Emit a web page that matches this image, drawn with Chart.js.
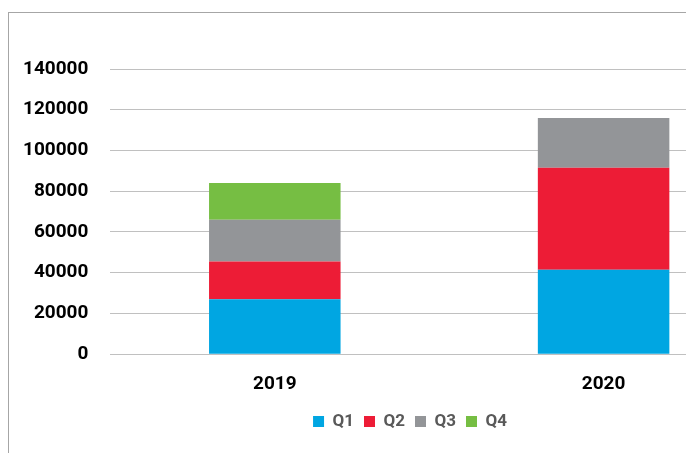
<!DOCTYPE html>
<html>
<head>
<meta charset="utf-8">
<script src="https://cdn.jsdelivr.net/npm/chart.js@4"></script>
<style>
  html, body { margin: 0; padding: 0; background: #fff; overflow: hidden; width: 686px; height: 453px; }
  #frame {
    position: absolute; left: 8px; top: 12px;
    width: 810px; height: 441px;
    border-left: 1px solid #a6a6a6; border-top: 1px solid #a6a6a6;
  }
  #box { position: absolute; left: 0; top: 0; width: 802px; height: 440px; }
</style>
</head>
<body>
<div id="frame"><div id="box"><canvas id="chart"></canvas></div></div>
<script>
// Categories and series
const years = ['2019', '2020'];
const q1 = [27000, 41500];
const q2 = [18500, 50000];
const q3 = [20500, 24500];
const q4 = [18000, null];
const yTicks = [0, 20000, 40000, 60000, 80000, 100000, 120000, 140000];

const colors = ['#00a6e2', '#ed1c36', '#939598', '#76be43'];

function makeDataset(label, data, color) {
    return {
        label: label,
        data: data,
        backgroundColor: color,
        borderWidth: 0,
        categoryPercentage: 1.0,
        barPercentage: 0.4
    };
}

// the legend sits a bit right of the plot centre in the original
const legendShift = {
    id: 'legendShift',
    afterLayout(chart) {
        if (!chart.legend) return;
        chart.legend.left += 14;
        chart.legend.right += 14;
    }
};

function initChart() {
    const ctx = document.getElementById('chart').getContext('2d');
    new Chart(ctx, {
        type: 'bar',
        data: {
            labels: years,
            datasets: [
                makeDataset('Q1', q1, colors[0]),
                makeDataset('Q2', q2, colors[1]),
                makeDataset('Q3', q3, colors[2]),
                makeDataset('Q4', q4, colors[3])
            ]
        },
        plugins: [legendShift],
        options: {
            responsive: true,
            maintainAspectRatio: false,
            animation: false,
            layout: { padding: { left: 15, right: 43, top: 56, bottom: 13 } },
            plugins: {
                tooltip: { enabled: false },
                legend: {
                    position: 'bottom',
                    labels: {
                        boxWidth: 11,
                        boxHeight: 11,
                        padding: 10,
                        color: '#595959',
                        font: { family: 'Roboto', weight: 'bold', size: 17 }
                    }
                }
            },
            scales: {
                x: {
                    stacked: true,
                    grid: { display: false },
                    border: { display: false },
                    afterFit: (axis) => { axis.height -= 4; },
                    ticks: {
                        color: '#000',
                        padding: 11,
                        font: { family: 'Roboto', weight: 'bold', size: 19 }
                    }
                },
                y: {
                    stacked: true,
                    min: 0,
                    max: 140000,
                    afterBuildTicks: (axis) => { axis.ticks = yTicks.map(v => ({ value: v })); },
                    afterFit: (axis) => { axis.width -= 23; },
                    grid: { color: '#c0c0c0', lineWidth: 1, drawTicks: false },
                    border: { display: false },
                    ticks: {
                        color: '#000',
                        padding: 22,
                        font: { family: 'Roboto', weight: 'bold', size: 19 },
                        callback: (v) => String(v)
                    }
                }
            }
        }
    });
}

document.addEventListener('DOMContentLoaded', initChart);
</script>
</body>
</html>
